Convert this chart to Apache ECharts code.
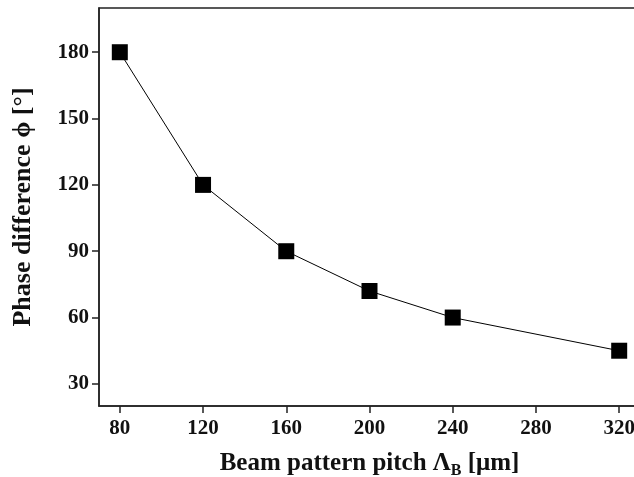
<!DOCTYPE html>
<html><head><meta charset="utf-8">
<script src="https://cdn.jsdelivr.net/npm/echarts@6/dist/echarts.min.js"></script>
<style>html,body{margin:0;padding:0;background:#fff}#c{width:634px;height:477px}</style>
</head><body><div id="c"></div>
<script>
const pitch = [80, 120, 160, 200, 240, 320];
const phase = [180, 120, 90, 72, 60, 45];
const xTicks = [80, 120, 160, 200, 240, 280, 320];
const yTicks = [30, 60, 90, 120, 150, 180];

const font = '"Liberation Serif", "Times New Roman", serif';
const chart = echarts.init(document.getElementById('c'), null, {renderer: 'canvas'});
chart.setOption({
  animation: false,
  backgroundColor: '#fff',
  grid: {left: 99, right: -6, top: 8, bottom: 71, outerBoundsMode: 'none', containLabel: false,
         show: true, borderColor: '#222', borderWidth: 1.5, backgroundColor: 'transparent'},
  xAxis: {
    type: 'value', min: 70, max: 330,
    name: '{t|Beam pattern pitch Λ}{s|B}{t| [μm]}',
    nameLocation: 'middle', nameGap: 45,
    nameTextStyle: {rich: {
      t: {fontFamily: font, fontWeight: 'bold', fontSize: 25, color: '#111'},
      s: {fontFamily: font, fontWeight: 'bold', fontSize: 16, color: '#111', verticalAlign: 'bottom', padding: [0, 0, -3, 0]}
    }},
    axisLine: {lineStyle: {color: '#222', width: 1.5}},
    axisTick: {show: true, inside: false, length: 7, customValues: xTicks, lineStyle: {color: '#222', width: 1.5}},
    axisLabel: {customValues: xTicks, margin: 12, fontFamily: font, fontWeight: 'bold', fontSize: 21, color: '#111'},
    splitLine: {show: false}
  },
  yAxis: {
    type: 'value', min: 20, max: 200,
    name: 'Phase difference ϕ [°]',
    nameLocation: 'middle', nameGap: 63, nameRotate: 90,
    nameTextStyle: {fontFamily: font, fontWeight: 'bold', fontSize: 26, color: '#111'},
    axisLine: {show: true, lineStyle: {color: '#222', width: 1.5}},
    axisTick: {show: true, inside: false, length: 7, customValues: yTicks, lineStyle: {color: '#222', width: 1.5}},
    axisLabel: {customValues: yTicks, margin: 10, fontFamily: font, fontWeight: 'bold', fontSize: 21, color: '#111'},
    splitLine: {show: false}
  },
  series: [{
    type: 'line',
    data: pitch.map((x, i) => [x, phase[i]]),
    symbol: 'rect', symbolSize: 16,
    itemStyle: {color: '#000'},
    lineStyle: {color: '#000', width: 1},
    z: 3
  }]
});
</script></body></html>
